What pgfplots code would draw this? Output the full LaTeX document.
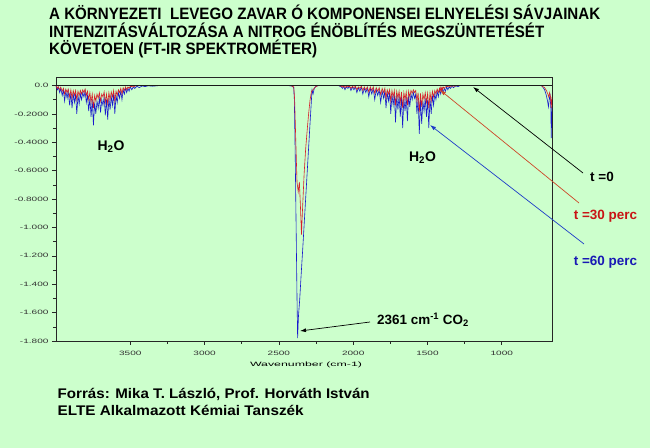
\documentclass[border=0pt]{standalone}
\usepackage{pgfplots}
\pgfplotsset{compat=1.18}
\usepackage{fontspec}
\usepackage{graphicx}
\usetikzlibrary{arrows.meta}
\setmainfont{Liberation Sans}
\newfontfamily\tickfont[FakeStretch=1.6]{Liberation Sans}
\definecolor{bg}{RGB}{204,255,204}
\definecolor{specblue}{RGB}{25,25,205}
\definecolor{specred}{RGB}{215,30,40}
\definecolor{txtred}{RGB}{200,20,20}
\definecolor{txtblue}{RGB}{25,25,180}
\definecolor{arrred}{RGB}{205,70,40}
\definecolor{arrblue}{RGB}{30,60,200}

\begin{document}
\begin{tikzpicture}[x=1bp,y=1bp]
\path[use as bounding box, fill=bg] (0,0) rectangle (650,448);
\begin{axis}[
  at={(56bp,107bp)}, anchor=south west,
  scale only axis, width=496bp, height=264bp,
  xmin=662, xmax=4000, ymin=-1.8, ymax=0.06,
  x dir=reverse,
  axis line style={line width=0.8bp, color=black!85},
  tick align=outside,
  major tick length=4bp, minor tick length=3bp,
  every tick/.style={line width=0.6bp, color=black!85},
  xtick={1000,1500,2000,2500,3000,3500},
  xticklabels={1000,1500,2000,2500,3000,3500},
  minor x tick num=1,
  ytick={-1.8,-1.6,-1.4,-1.2,-1.0,-0.8,-0.6,-0.4,-0.2,0},
  yticklabels={-1.800,-1.600,-1.400,-1.200,-1.000,-0.8000,-0.6000,-0.4000,-0.2000,0.0},
  minor y tick num=1,
  xtick pos=bottom, ytick pos=left,
  ticklabel style={font=\tickfont\fontsize{6.3}{7}\selectfont, text=black!80},
  xticklabel style={yshift=-3bp},
  yticklabel style={xshift=0bp},
]
% t = 60 perc (blue)
\addplot[specblue, line width=0.6bp] coordinates {
(4000,-0.005) (3990,-0.03) (3985,-0.01) (3975,-0.05) (3968,-0.02) (3958,-0.07) (3950,-0.03) (3942,-0.11)
(3934,-0.04) (3925,-0.09) (3918,-0.04) (3908,-0.14) (3900,-0.05) (3892,-0.16) (3884,-0.06) (3876,-0.12)
(3868,-0.06) (3860,-0.20) (3852,-0.07) (3844,-0.13) (3836,-0.06) (3828,-0.10) (3820,-0.05) (3812,-0.08)
(3804,-0.04) (3796,-0.12) (3788,-0.07) (3780,-0.18) (3772,-0.09) (3764,-0.22) (3756,-0.10) (3748,-0.28)
(3740,-0.12) (3732,-0.20) (3724,-0.11) (3716,-0.16) (3708,-0.09) (3700,-0.19) (3692,-0.10) (3684,-0.14)
(3676,-0.08) (3668,-0.21) (3660,-0.10) (3652,-0.24) (3644,-0.09) (3636,-0.17) (3628,-0.08) (3620,-0.14)
(3612,-0.06) (3604,-0.20) (3596,-0.07) (3588,-0.12) (3580,-0.05) (3572,-0.09) (3564,-0.04) (3556,-0.10)
(3548,-0.03) (3540,-0.06) (3532,-0.02) (3524,-0.05) (3516,-0.02) (3508,-0.04) (3500,-0.01) (3490,-0.03)
(3480,-0.01) (3470,-0.02) (3455,-0.005) (3440,-0.015) (3420,-0.003) (3400,-0.008) (3380,-0.002) (3350,-0.005)
(3300,0) (2440,0) (2410,-0.005) (2400,-0.015) (2396,-0.1) (2390,-0.5) (2384,-1.0) (2378,-1.5) (2374,-1.78)
(2368,-1.62) (2360,-1.51) (2350,-1.33) (2340,-1.16) (2330,-0.98) (2320,-0.80) (2310,-0.62) (2300,-0.44)
(2290,-0.26) (2282,-0.12) (2277,-0.03) (2270,-0.06) (2262,-0.02) (2250,-0.005) (2230,0)
(2100,0) (2080,-0.01) (2072,-0.02) (2064,-0.005) (2055,-0.03) (2046,-0.01) (2035,-0.02) (2025,-0.005)
(2015,-0.035) (2005,-0.01) (1995,-0.03) (1985,-0.01) (1975,-0.05) (1965,-0.015) (1955,-0.04) (1945,-0.01)
(1935,-0.06) (1925,-0.02) (1915,-0.05) (1905,-0.015) (1895,-0.08) (1885,-0.02) (1875,-0.06) (1865,-0.02)
(1855,-0.10) (1845,-0.03) (1835,-0.07) (1825,-0.03) (1815,-0.12) (1805,-0.04) (1795,-0.09) (1787,-0.04)
(1779,-0.16) (1771,-0.05) (1763,-0.11) (1755,-0.05) (1747,-0.20) (1739,-0.06) (1731,-0.14) (1723,-0.06)
(1715,-0.26) (1707,-0.07) (1699,-0.17) (1691,-0.07) (1683,-0.22) (1675,-0.08) (1667,-0.30) (1659,-0.09)
(1651,-0.18) (1643,-0.08) (1635,-0.25) (1627,-0.07) (1619,-0.15) (1611,-0.06) (1603,-0.10) (1595,-0.05)
(1587,-0.09) (1579,-0.06) (1571,-0.20) (1563,-0.09) (1555,-0.34) (1547,-0.10) (1539,-0.27) (1531,-0.11)
(1523,-0.18) (1515,-0.09) (1507,-0.22) (1499,-0.10) (1491,-0.30) (1483,-0.09) (1475,-0.20) (1467,-0.07)
(1459,-0.14) (1451,-0.06) (1443,-0.10) (1435,-0.04) (1427,-0.08) (1419,-0.03) (1411,-0.06) (1403,-0.02)
(1395,-0.05) (1387,-0.02) (1379,-0.04) (1371,-0.01) (1363,-0.03) (1355,-0.01) (1345,-0.02) (1335,-0.005)
(1325,-0.015) (1310,-0.003) (1295,-0.008) (1280,0)
(735,0) (725,-0.01) (712,-0.03) (700,-0.07) (692,-0.11) (686,-0.15) (680,-0.09) (675,-0.07) (670,-0.16)
(667,-0.37) (664,-0.2) (662,-0.15)
};
% t = 30 perc (red)
\addplot[specred, line width=0.6bp] coordinates {
(4000,-0.003) (3990,-0.02) (3985,-0.008) (3975,-0.03) (3968,-0.012) (3958,-0.04) (3950,-0.02) (3942,-0.06)
(3934,-0.025) (3925,-0.05) (3918,-0.025) (3908,-0.08) (3900,-0.03) (3892,-0.09) (3884,-0.035) (3876,-0.07)
(3868,-0.035) (3860,-0.10) (3852,-0.04) (3844,-0.07) (3836,-0.035) (3828,-0.06) (3820,-0.03) (3812,-0.05)
(3804,-0.025) (3796,-0.07) (3788,-0.04) (3780,-0.10) (3772,-0.05) (3764,-0.12) (3756,-0.06) (3748,-0.16)
(3740,-0.07) (3732,-0.11) (3724,-0.06) (3716,-0.09) (3708,-0.05) (3700,-0.11) (3692,-0.06) (3684,-0.08)
(3676,-0.045) (3668,-0.12) (3660,-0.06) (3652,-0.13) (3644,-0.05) (3636,-0.10) (3628,-0.045) (3620,-0.08)
(3612,-0.035) (3604,-0.11) (3596,-0.04) (3588,-0.07) (3580,-0.03) (3572,-0.05) (3564,-0.02) (3556,-0.06)
(3548,-0.015) (3540,-0.035) (3532,-0.01) (3524,-0.03) (3516,-0.01) (3508,-0.02) (3500,-0.005) (3480,-0.01)
(3460,0) (2420,0) (2400,-0.01) (2394,-0.1) (2386,-0.4) (2378,-0.68) (2370,-0.75) (2362,-0.68) (2355,-0.85)
(2348,-1.05) (2340,-0.85) (2330,-0.62) (2320,-0.45) (2310,-0.32) (2300,-0.2) (2290,-0.1) (2280,-0.04)
(2270,-0.03) (2255,-0.01) (2235,0)
(2100,0) (2080,-0.005) (2072,-0.01) (2064,-0.003) (2055,-0.015) (2046,-0.005) (2035,-0.01) (2025,-0.003)
(2015,-0.02) (2005,-0.005) (1995,-0.015) (1985,-0.005) (1975,-0.03) (1965,-0.01) (1955,-0.02) (1945,-0.005)
(1935,-0.035) (1925,-0.01) (1915,-0.03) (1905,-0.01) (1895,-0.045) (1885,-0.01) (1875,-0.035) (1865,-0.01)
(1855,-0.055) (1845,-0.015) (1835,-0.04) (1825,-0.015) (1815,-0.065) (1805,-0.02) (1795,-0.05) (1787,-0.02)
(1779,-0.09) (1771,-0.03) (1763,-0.06) (1755,-0.03) (1747,-0.11) (1739,-0.035) (1731,-0.08) (1723,-0.035)
(1715,-0.14) (1707,-0.04) (1699,-0.09) (1691,-0.04) (1683,-0.12) (1675,-0.045) (1667,-0.16) (1659,-0.05)
(1651,-0.10) (1643,-0.045) (1635,-0.14) (1627,-0.04) (1619,-0.08) (1611,-0.035) (1603,-0.055) (1595,-0.03)
(1587,-0.05) (1579,-0.035) (1571,-0.11) (1563,-0.05) (1555,-0.19) (1547,-0.055) (1539,-0.15) (1531,-0.06)
(1523,-0.10) (1515,-0.05) (1507,-0.12) (1499,-0.055) (1491,-0.16) (1483,-0.05) (1475,-0.11) (1467,-0.04)
(1459,-0.08) (1451,-0.035) (1443,-0.06) (1435,-0.025) (1427,-0.05) (1419,-0.02) (1415,-0.04) (1411,-0.015)
(1407,-0.035) (1403,-0.015) (1399,-0.03) (1395,-0.01) (1387,-0.02) (1379,-0.01) (1371,-0.005) (1355,-0.01)
(1340,-0.003) (1320,-0.005) (1300,0)
(735,0) (712,-0.015) (700,-0.035) (690,-0.06) (684,-0.08) (678,-0.05) (672,-0.08) (667,-0.16) (664,-0.1) (662,-0.08)
};
% t = 0 (black)
\addplot[black!90, line width=0.8bp] coordinates {(4000,0) (662,0)};
\end{axis}

% x axis label
\node[inner sep=0] at (306,83) {\resizebox{112bp}{\height}{\tickfont\fontsize{6.3}{7}\selectfont Wavenumber (cm-1)}};

% title
\node[anchor=base west, inner sep=0] at (49,428.7) {\resizebox{551bp}{\height}{\fontsize{16.5}{18}\selectfont\bfseries A KÖRNYEZETI\ \ LEVEGO ZAVAR Ó KOMPONENSEI ELNYELÉSI SÁVJAINAK}};
\node[anchor=base west, inner sep=0] at (49,410.7) {\resizebox{495bp}{\height}{\fontsize{16.5}{18}\selectfont\bfseries INTENZITÁSVÁLTOZÁSA A NITROG ÉNÖBLÍTÉS MEGSZÜNTETÉSÉT}};
\node[anchor=base west, inner sep=0] at (49,393) {\resizebox{268bp}{\height}{\fontsize{16.5}{18}\selectfont\bfseries KÖVETOEN (FT-IR SPEKTROMÉTER)}};

% source
\node[anchor=base west, inner sep=0] at (57.5,49) {\resizebox{312bp}{\height}{\fontsize{14}{16}\selectfont\bfseries Forrás: Mika T. László, Prof. Horváth István}};
\node[anchor=base west, inner sep=0] at (57.5,32) {\resizebox{246bp}{\height}{\fontsize{14}{16}\selectfont\bfseries ELTE Alkalmazott Kémiai Tanszék}};

% annotations
\node[inner sep=0, font=\fontsize{14}{16}\selectfont\bfseries] at (111,301) {H\textsubscript{2}O};
\node[inner sep=0, font=\fontsize{14}{16}\selectfont\bfseries] at (422.5,290) {H\textsubscript{2}O};
\node[inner sep=0, font=\fontsize{13.5}{16}\selectfont\bfseries] at (602,271) {t =0};
\node[inner sep=0, font=\fontsize{13.5}{16}\selectfont\bfseries, text=txtred] at (605.5,232) {t =30 perc};
\node[inner sep=0, font=\fontsize{13.5}{16}\selectfont\bfseries, text=txtblue] at (605.5,185.5) {t =60 perc};
\node[inner sep=0, font=\fontsize{13.5}{16}\selectfont\bfseries] at (423,128) {2361 cm\textsuperscript{-1} CO\textsubscript{2}};

\draw[black, line width=0.7bp, -{Latex[length=6bp,width=4bp]}] (583,275) -- (473,361);
\draw[arrred, line width=0.7bp, -{Latex[length=6bp,width=4bp]}] (579,245) -- (440,358);
\draw[arrblue, line width=0.7bp, -{Latex[length=6bp,width=4bp]}] (584,204) -- (430,323);
\draw[black, line width=0.7bp, -{Latex[length=6bp,width=4bp]}] (370,126) -- (300,117);
\end{tikzpicture}
\end{document}
